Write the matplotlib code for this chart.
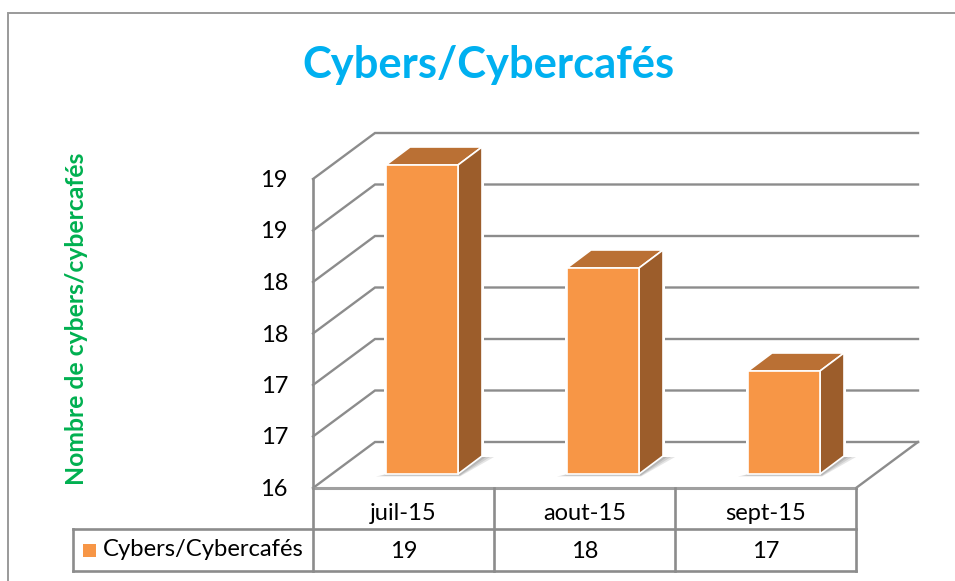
"""Cybers/Cybercafes: 3D-look column chart with a data table."""
import matplotlib
matplotlib.use("Agg")
import matplotlib.pyplot as plt
from matplotlib.patches import Polygon, Rectangle

matplotlib.rcParams.update({"font.family": ["Lato", "DejaVu Sans"]})

categories = ["juil-15", "aout-15", "sept-15"]
values = [19, 18, 17]
tick_values = [16, 16.5, 17, 17.5, 18, 18.5, 19]
tick_labels = ["16", "17", "17", "18", "18", "19", "19"]
series_name = "Cybers/Cybercafés"
title = "Cybers/Cybercafés"
y_title = "Nombre de cybers/cybercafés"

ORANGE = "#F79646"; SIDE = "#9C5D2B"; TOP = "#BA7034"; GRID = "#8C8C8C"

W, H = 955, 581
fig = plt.figure(figsize=(W / 100, H / 100), dpi=100)
ax = fig.add_axes([0, 0, 1, 1])
ax.set_xlim(0, W); ax.set_ylim(H, 0); ax.axis("off")

# pseudo 3D geometry, in pixels
X0, X1 = 313, 856          # front edge of the floor
Y0 = 488                   # front edge, value 16
DX, DY = 62, 46            # depth of the box
STEP = 103                 # pixels per unit
COL = (X1 - X0) / len(categories)
BAR_W, BAR_DX, BAR_DY = 72, 24, 18
BAR_BASE = 474


def wall_y(v):
    return Y0 - (v - tick_values[0]) * STEP


def bar_y(v):
    return BAR_BASE - (v - tick_values[0]) * STEP


# chart frame, open on the right
ax.plot([8, 8, W], [H, 13, 13], color="#9A9A9A", lw=1.4, solid_joinstyle="miter")

# gridlines on side wall and back wall
for v, lab in zip(tick_values, tick_labels):
    y = wall_y(v)
    ax.plot([X0, X0 + DX, X1 + DX], [y, y - DY, y - DY], color=GRID, lw=1.7,
            solid_joinstyle="miter", zorder=1)
    ax.text(288, y + 1.5, lab, fontsize=17, ha="right", va="center", color="black")
ax.plot([X0, X0], [Y0, wall_y(tick_values[-1])], color=GRID, lw=1.9, zorder=1)

# floor
ax.plot([X1, X1 + DX], [Y0, Y0 - DY], color=GRID, lw=1.7, zorder=1)

# bars
for i, v in enumerate(values):
    x = X0 + COL * i + 73
    top = bar_y(v)
    # white halo so the gridlines stop short of the bar
    ax.add_patch(Rectangle((x - 2, top - BAR_DY), BAR_W + BAR_DX + 4,
                           BAR_BASE - top + BAR_DY, fc="white", ec="none", zorder=2))
    # soft floor shadow, a few translucent layers
    for grow, alpha in [(10, 0.25), (6, 0.3), (2, 0.45)]:
        ax.add_patch(Polygon([(x - grow, BAR_BASE + 1 + grow * 0.15),
                              (x + BAR_W + 2, BAR_BASE + 1 + grow * 0.15),
                              (x + BAR_W + BAR_DX + 2 + grow, BAR_BASE - BAR_DY + 1),
                              (x + BAR_W, BAR_BASE - BAR_DY + 1)],
                             fc="#9A9A9A", ec="none", alpha=alpha, zorder=3))
    ax.add_patch(Polygon([(x, top), (x + BAR_W, top),
                          (x + BAR_W + BAR_DX, top - BAR_DY), (x + BAR_DX, top - BAR_DY)],
                         fc=TOP, ec="white", lw=1.2, zorder=4))
    ax.add_patch(Polygon([(x + BAR_W, top), (x + BAR_W + BAR_DX, top - BAR_DY),
                          (x + BAR_W + BAR_DX, BAR_BASE - BAR_DY), (x + BAR_W, BAR_BASE)],
                         fc=SIDE, ec="white", lw=1.2, zorder=4))
    ax.add_patch(Rectangle((x, top), BAR_W, BAR_BASE - top,
                           fc=ORANGE, ec="white", lw=1.2, zorder=5))

# data table
ROW1, ROW2, LEFT = 529, 571, 73
ax.plot([X0, X1], [Y0, Y0], color="#A0A0A0", lw=2.2, zorder=6)
ax.plot([LEFT, X1], [ROW1, ROW1], color=GRID, lw=1.9, zorder=6)
ax.plot([LEFT, X1], [ROW2, ROW2], color=GRID, lw=1.9, zorder=6)
ax.plot([LEFT, LEFT], [ROW1, ROW2], color=GRID, lw=1.9, zorder=6)
for i in range(len(categories) + 1):
    x = X0 + COL * i
    ax.plot([x, x], [Y0, ROW2], color=GRID, lw=1.9, zorder=6)
for i, (c, v) in enumerate(zip(categories, values)):
    xc = X0 + COL * (i + 0.5)
    ax.text(xc, 514, c, fontsize=17, ha="center", va="center")
    ax.text(xc, 551, str(v), fontsize=17, ha="center", va="center")
ax.add_patch(Rectangle((83, 544), 13, 13, fc=ORANGE, ec="none"))
ax.text(103, 549, series_name, fontsize=17.2, ha="left", va="center")

ax.text(488, 65, title, fontsize=31.3, fontweight="bold", color="#00B0F0",
        ha="center", va="center")
ax.text(77, 319, y_title, fontsize=17.8, fontweight="bold", color="#00B050",
        rotation=90, ha="center", va="center")

fig.savefig("out.png", dpi=100)
